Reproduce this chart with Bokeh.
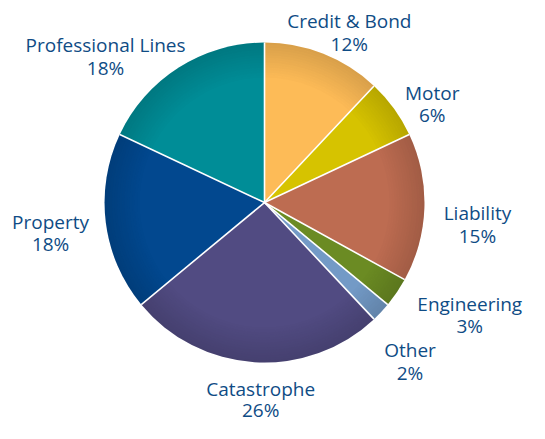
import math
from bokeh.plotting import figure
from bokeh.models import Range1d, ColumnDataSource
from bokeh.core.properties import value
from bokeh.embed import file_html
from bokeh.resources import INLINE

# ---- data ----
categories = ["Credit & Bond", "Motor", "Liability", "Engineering", "Other",
              "Catastrophe", "Property", "Professional Lines"]
shares = [12, 6, 15, 3, 2, 26, 18, 18]
colors = ["#FDBB57", "#D6C300", "#BD6C51", "#6B8B23", "#739AC6",
          "#514B82", "#02488F", "#008D97"]

# ---- layout ----
W, H = 529, 423
S = H / 439.0                      # fit the 545x439 design into the canvas
CX, CY, R = 274 * S, H - 218 * S + 8, 166 * S
# label anchor offsets from the pie centre (design pixels, x right / y down, first baseline)
label_offsets = [(88, -188), (174, -114), (221, 11), (213, 105),
                 (151, 153), (-4, 193), (-222, 20), (-165, -163)]
line_gaps = [23.5, 23.5, 23.5, 23.5, 23.5, 22.8, 23.5, 23.5]
TEXT_COLOR = "#0F4C85"
FONT = "Open Sans"
FONT_SIZE = "19px"

p = figure(width=W, height=H, output_backend="svg", toolbar_location=None,
           x_range=Range1d(0, W), y_range=Range1d(0, H), min_border=0)
p.axis.visible = False
p.grid.visible = False
p.outline_line_color = None
p.background_fill_color = "white"
p.border_fill_color = "white"

total = float(sum(shares))
starts, ends = [], []
cum = 0.0
for s in shares:
    starts.append(math.pi / 2 - 2 * math.pi * cum / total)
    cum += s
    ends.append(math.pi / 2 - 2 * math.pi * cum / total)

src = ColumnDataSource(dict(cat=categories, share=shares, color=colors,
                            start=starts, end=ends))
p.wedge(x=CX, y=CY, radius=R, start_angle="start", end_angle="end",
        direction="clock", fill_color="color", line_color=None, source=src)

# rim shading (approximate the radial gradient)
n = 14
for i in range(n):
    r0 = R * (0.78 + 0.22 * i / n)
    r1 = R * (0.78 + 0.22 * (i + 1) / n)
    p.annular_wedge(x=CX, y=CY, inner_radius=r0, outer_radius=r1,
                    start_angle="start", end_angle="end", direction="clock",
                    fill_color="black", fill_alpha=0.14 * (i + 1) / n,
                    line_color=None, source=src)

# white separators
xs0 = [CX] * len(starts)
ys0 = [CY] * len(starts)
xs1 = [CX + R * math.cos(a) for a in starts]
ys1 = [CY + R * math.sin(a) for a in starts]
p.segment(x0=xs0, y0=ys0, x1=xs1, y1=ys1, line_color="white", line_width=1.6)

# labels
lx = [CX + dx * S for dx, dy in label_offsets]
ly1 = [CY - dy * S for dx, dy in label_offsets]
ly2 = [y - g * S for y, g in zip(ly1, line_gaps)]
pct = [f"{s}%" for s in shares]
p.text(x=lx, y=ly1, text=categories, text_font=value(FONT), text_font_size=FONT_SIZE,
       text_color=TEXT_COLOR, text_align="center", text_baseline="alphabetic")
p.text(x=lx, y=ly2, text=pct, text_font=value(FONT), text_font_size=FONT_SIZE,
       text_color=TEXT_COLOR, text_align="center", text_baseline="alphabetic")

open("out.html", "w").write(file_html(p, INLINE))
